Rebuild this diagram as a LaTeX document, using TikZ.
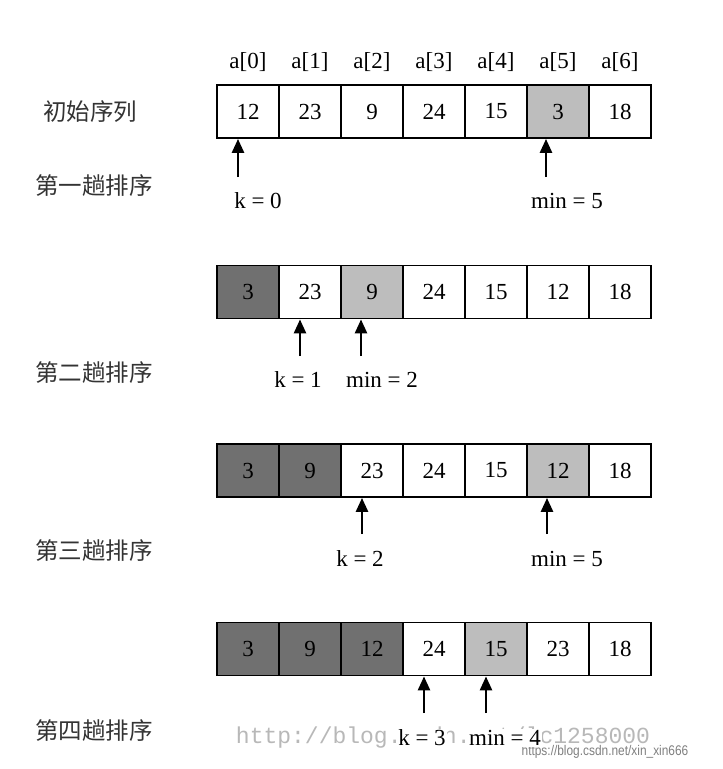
\documentclass[tikz,border=0pt]{standalone}
\usepackage{fontspec}
\setmainfont{Liberation Serif}
\newfontfamily\cjk{Noto Sans CJK SC}
\newfontfamily\wmmono{Liberation Mono}
\newfontfamily\wmsans{Liberation Sans}
\usetikzlibrary{arrows.meta}
\definecolor{darkcell}{HTML}{707070}
\definecolor{lightcell}{HTML}{BDBDBD}
\begin{document}
\begin{tikzpicture}[x=1pt,y=-1pt,
  cell/.style={draw=black,line width=1.8pt,minimum width=62pt,minimum height=53pt,inner sep=0pt,font=\fontsize{23}{25}\selectfont,anchor=center},
  dk/.style={fill=darkcell},
  lt/.style={fill=lightcell},
  idx/.style={font=\fontsize{23}{25}\selectfont,inner sep=0pt},
  ptr/.style={font=\fontsize{23}{25}\selectfont,inner sep=1pt,fill=white},
  rowlab/.style={font=\cjk\fontsize{23.5}{25}\selectfont,text=black!80,inner sep=0pt},
  parrow/.style={line width=2.6pt,-{Triangle[width=12pt,length=14pt]}}
]
\useasboundingbox (0,0) rectangle (723,769);
\fill[white] (0,0) rectangle (723,769);

% watermarks
\node[font=\wmmono\fontsize{23}{25}\selectfont,text=black!28,inner sep=0pt] (wm1) at (443,738) {http://blog.csdn.net/lc1258000};
\node[font=\wmsans\fontsize{14}{16}\selectfont,text=black!50,inner sep=0pt,xscale=0.85] (wm2) at (605,752) {https://blog.csdn.net/xin\_xin666};

% index labels
\foreach \i in {0,...,6}{
  \node[idx] (ix\i) at ({248+62*\i},62) {a[\i]};
}

% rows
\foreach \v/\s [count=\i from 0] in {12/,23/,9/,24/,15/,3/lt,18/}{
  \node[cell,\s] (ra\i) at ({248+62*\i},111.5) {\v};
}
\foreach \v/\s [count=\i from 0] in {3/dk,23/,9/lt,24/,15/,12/,18/}{
  \node[cell,\s] (rb\i) at ({248+62*\i},292) {\v};
}
\foreach \v/\s [count=\i from 0] in {3/dk,9/dk,23/,24/,15/,12/lt,18/}{
  \node[cell,\s] (rc\i) at ({248+62*\i},470.5) {\v};
}
\foreach \v/\s [count=\i from 0] in {3/dk,9/dk,12/dk,24/,15/lt,23/,18/}{
  \node[cell,\s] (rd\i) at ({248+62*\i},649) {\v};
}

% row labels
\node[rowlab] (l0) at (90,112) {初始序列};
\node[rowlab] (l1) at (94,186) {第一趟排序};
\node[rowlab] (l2) at (94,373) {第二趟排序};
\node[rowlab] (l3) at (94,551) {第三趟排序};
\node[rowlab] (l4) at (94,731) {第四趟排序};

% pointers row 1
\coordinate (p1a) at (238,177);
\coordinate (p1b) at (546,177);
\draw[parrow] (p1a) -- (p1a |- ra0.south);
\draw[parrow] (p1b) -- (p1b |- ra5.south);
\node[ptr] (k0) at (258,201) {k = 0};
\node[ptr] (m5a) at (567,201) {min = 5};

% pointers row 2
\coordinate (p2a) at (300,356);
\coordinate (p2b) at (361,356);
\draw[parrow] (p2a) -- (p2a |- rb1.south);
\draw[parrow] (p2b) -- (p2b |- rb2.south);
\node[ptr] (k1) at (298,380) {k = 1};
\node[ptr] (m2) at (382,380) {min = 2};

% pointers row 3
\coordinate (p3a) at (362,534);
\coordinate (p3b) at (547,534);
\draw[parrow] (p3a) -- (p3a |- rc2.south);
\draw[parrow] (p3b) -- (p3b |- rc5.south);
\node[ptr] (k2) at (360,559) {k = 2};
\node[ptr] (m5b) at (567,559) {min = 5};

% pointers row 4
\coordinate (p4a) at (424,713);
\coordinate (p4b) at (486,713);
\draw[parrow] (p4a) -- (p4a |- rd3.south);
\draw[parrow] (p4b) -- (p4b |- rd4.south);
\node[ptr] (k3) at (422,738) {k = 3};
\node[ptr] (m4) at (505,738) {min = 4};
\end{tikzpicture}
\end{document}
